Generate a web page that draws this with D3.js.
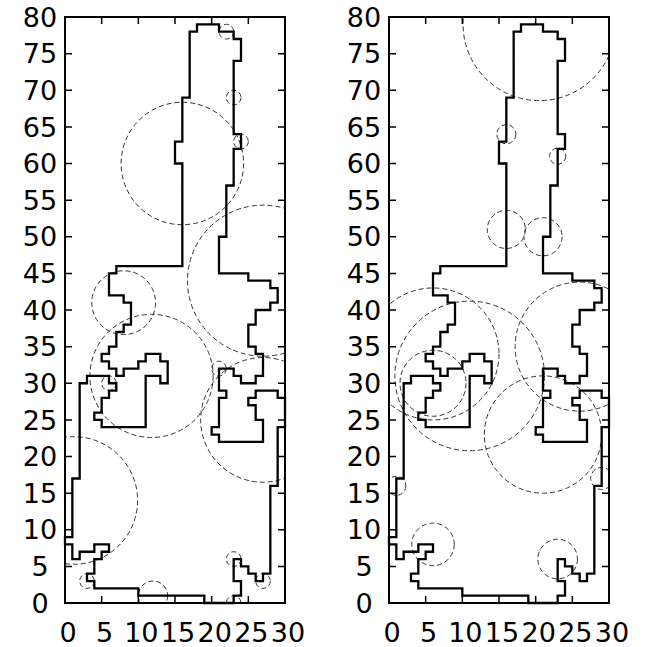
<!DOCTYPE html>
<html><head><meta charset="utf-8">
<script src="https://cdn.jsdelivr.net/npm/d3@7"></script>
<style>body{margin:0;background:#fff}svg{display:block}text{font-family:"DejaVu Sans",sans-serif;font-size:27px;fill:#000}</style>
</head><body>
<script>
const xTicks = [0, 5, 10, 15, 20, 25, 30];
const yTicks = [0, 5, 10, 15, 20, 25, 30, 35, 40, 45, 50, 55, 60, 65, 70, 75, 80];

// outline of the region (same in both panels), [x, y]
const outline = [
  [18,79],[21,79],[21,78],[23,78],[23,77],[24,77],[24,74],[23,74],[23,64],[24,64],[24,62],[23,62],
  [23,57],[22,57],[22,50],[21,50],[21,45],[25,45],[25,44],[28,44],[28,43],[29,43],[29,41],[28,41],
  [28,40],[26,40],[26,38],[25,38],[25,35],[26,35],[26,34],[27,34],[27,31],[26,31],[26,30],[24,30],
  [24,31],[23,31],[23,32],[21,32],[21,29],[22,29],[22,28],[21,28],[21,24],[20,24],[20,23],[21,23],
  [21,22],[27,22],[27,25],[26,25],[26,27],[25,27],[25,28],[26,28],[26,29],[29,29],[29,28],[30,28],
  [30,24],[29,24],[29,16],[28,16],[28,4],[27,4],[27,3],[26,3],[26,4],[25,4],[25,5],[24,5],[24,6],
  [23,6],[23,3],[24,3],[24,1],[23,1],[23,0],[19,0],[19,1],[10,1],[10,2],[4,2],[4,3],[3,3],[3,4],
  [4,4],[4,6],[5,6],[5,7],[6,7],[6,8],[4,8],[4,7],[2,7],[2,6],[1,6],[1,8],[0,8],[0,9],[1,9],[1,17],
  [2,17],[2,30],[3,30],[3,31],[6,31],[6,30],[7,30],[7,29],[6,29],[6,28],[5,28],[5,26],[4,26],[4,25],
  [5,25],[5,24],[11,24],[11,31],[13,31],[13,30],[14,30],[14,33],[13,33],[13,34],[11,34],[11,33],
  [10,33],[10,32],[8,32],[8,31],[7,31],[7,32],[6,32],[6,33],[5,33],[5,34],[6,34],[6,35],[7,35],
  [7,37],[8,37],[8,38],[9,38],[9,41],[8,41],[8,42],[6,42],[6,45],[7,45],[7,46],[16,46],[16,60],
  [15,60],[15,63],[16,63],[16,69],[17,69],[17,78],[18,78]
];

// circles [cx, cy, r]
const circlesLeft = [
  [16,60,8.35],[22,78,1],[23,69,1],[24,63,1],[27,44,10.3],[8,41,4.35],[11.8,31,8.4],[21,32,1],
  [6,30,1],[27,25,8.5],[1.2,14,8.7],[3,3,1],[12,1,2],[23,6,1],[27,3,1],[23,0,1]
];
const circlesRight = [
  [20.5,79,10.4],[16,64,1.3],[23,61,1.1],[16,51,2.6],[21,50,2.6],[6,34,9],[11,31,10.2],[6,30,4.5],
  [26,35,8.8],[21,23,8],[29,17,1.5],[1,16,1.3],[6,8,2.9],[23,6,2.7]
];

const W = 645, H = 647;
const svg = d3.select("body").append("svg").attr("width", W).attr("height", H);
const plotTop = 17, plotBottom = 603, pw = 220;
const panels = [{left: 65, circles: circlesLeft}, {left: 389, circles: circlesRight}];

panels.forEach((p, i) => {
  const x = d3.scaleLinear().domain([0, 30]).range([p.left, p.left + pw]);
  const y = d3.scaleLinear().domain([0, 80]).range([plotBottom, plotTop]);
  const g = svg.append("g");
  const cid = "clip" + i;
  g.append("clipPath").attr("id", cid).append("rect")
    .attr("x", p.left).attr("y", plotTop).attr("width", pw).attr("height", plotBottom - plotTop);

  g.append("g").attr("clip-path", `url(#${cid})`).selectAll("circle").data(p.circles).join("circle")
    .attr("cx", d => x(d[0])).attr("cy", d => y(d[1])).attr("r", d => x(d[2]) - x(0))
    .attr("fill", "none").attr("stroke", "#333").attr("stroke-width", 1)
    .attr("stroke-dasharray", "5,3");

  const line = d3.line().x(d => x(d[0])).y(d => y(d[1]));
  g.append("path").attr("d", line(outline) + "Z")
    .attr("fill", "none").attr("stroke", "#000").attr("stroke-width", 2.3)
    .attr("stroke-linejoin", "miter");

  const tl = 7;
  g.selectAll(".xt").data(xTicks).join("path")
    .attr("d", d => `M${x(d)},${plotBottom}v${-tl}M${x(d)},${plotTop}v${tl}`)
    .attr("stroke", "#000").attr("stroke-width", 1.5);
  g.selectAll(".yt").data(yTicks).join("path")
    .attr("d", d => `M${p.left},${y(d)}h${tl}M${p.left + pw},${y(d)}h${-tl}`)
    .attr("stroke", "#000").attr("stroke-width", 1.5);

  g.append("rect").attr("x", p.left).attr("y", plotTop).attr("width", pw).attr("height", plotBottom - plotTop)
    .attr("fill", "none").attr("stroke", "#000").attr("stroke-width", 2);

  g.selectAll(".xl").data(xTicks).join("text")
    .attr("x", d => x(d) + 3).attr("y", 642).attr("text-anchor", "middle").text(d => d);
  g.selectAll(".yl").data(yTicks).join("text")
    .attr("x", p.left - 25).attr("y", d => y(d)).attr("dy", "0.36em")
    .attr("text-anchor", "middle").text(d => d);
});
</script>
</body></html>
